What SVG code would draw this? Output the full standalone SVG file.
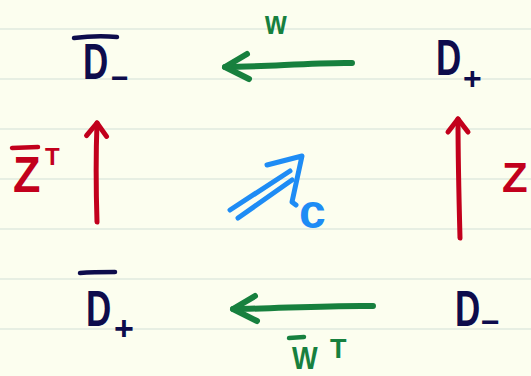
<svg xmlns="http://www.w3.org/2000/svg" width="531" height="376" viewBox="0 0 531 376">
  <style>
    .rule { stroke: #e7efe3; stroke-width: 2; }
    .t { font-family: "Liberation Sans", Arial, sans-serif; font-weight: bold; }
    .navy { fill: #0d0c4c; }
    .green { fill: #17803e; }
    .red { fill: #c2001c; }
    .blue { fill: #1e8cf5; }
    .bar { fill: none; stroke-width: 4.5; stroke-linecap: round; }
    .conn { fill: none; stroke-linecap: round; stroke-linejoin: round; }
    .g { stroke: #17803e; stroke-width: 6; }
    .r { stroke: #c2001c; stroke-width: 5; }
    .b { stroke: #1e8cf5; stroke-width: 5; }
  </style>
  <defs>
    <marker id="ahG" markerUnits="userSpaceOnUse" orient="auto" markerWidth="60" markerHeight="60" refX="0" refY="0" viewBox="-30 -30 60 60" overflow="visible">
      <path d="M-24,-12 L0,0 L-22,13" fill="none" stroke="#17803e" stroke-width="6" stroke-linecap="round" stroke-linejoin="round"/>
    </marker>
    <marker id="ahR" markerUnits="userSpaceOnUse" orient="auto" markerWidth="60" markerHeight="60" refX="0" refY="0" viewBox="-30 -30 60 60" overflow="visible">
      <path d="M-13,-10 L0,0 L-13,10" fill="none" stroke="#c2001c" stroke-width="5" stroke-linecap="round" stroke-linejoin="round"/>
    </marker>
  </defs>

  <rect width="531" height="376" fill="#fcfeef"/>
  <g id="rules">
    <line class="rule" x1="0" y1="29" x2="531" y2="29"/>
    <line class="rule" x1="0" y1="79" x2="531" y2="79"/>
    <line class="rule" x1="0" y1="129" x2="531" y2="129"/>
    <line class="rule" x1="0" y1="179" x2="531" y2="179"/>
    <line class="rule" x1="0" y1="229" x2="531" y2="229"/>
    <line class="rule" x1="0" y1="279" x2="531" y2="279"/>
    <line class="rule" x1="0" y1="329" x2="531" y2="329"/>
  </g>

  <g id="connectors">
    <path class="conn g" d="M352,63 C320,62 262,67 225,67" marker-end="url(#ahG)"/>
    <path class="conn g" d="M373,306 C330,305 270,309 233,309" marker-end="url(#ahG)"/>
    <path class="conn r" d="M97,222 C96,190 96,150 97,123" marker-end="url(#ahR)"/>
    <path class="conn r" d="M460,238 C459,200 458,150 458,119" marker-end="url(#ahR)"/>
    <g id="arrow-c">
      <path class="conn b" d="M230,210 L290,171"/>
      <path class="conn b" d="M238,218 L292,180"/>
      <path class="conn b" d="M267,165 L302,156 L292,202 L296,205"/>
    </g>
  </g>

  <g id="node-Dbar-minus">
    <path class="bar" stroke="#0d0c4c" d="M74,38 C90,36 105,36 117,37"/>
    <text class="t navy" font-size="50" transform="translate(83,79) scale(0.7,1)">D</text>
    <text class="t navy" font-size="30" x="111" y="88">−</text>
  </g>

  <g id="node-D-plus">
    <text class="t navy" font-size="50" transform="translate(436,75) scale(0.7,1)">D</text>
    <text class="t navy" font-size="32" x="463" y="89">+</text>
  </g>

  <g id="node-Dbar-plus">
    <path class="bar" stroke="#0d0c4c" d="M80,273 C92,272 104,272 115,272"/>
    <text class="t navy" font-size="50" transform="translate(86,326) scale(0.7,1)">D</text>
    <text class="t navy" font-size="34" x="114" y="340">+</text>
  </g>

  <g id="node-D-minus">
    <text class="t navy" font-size="50" transform="translate(455,326) scale(0.7,1)">D</text>
    <text class="t navy" font-size="32" x="481" y="333">−</text>
  </g>

  <g id="labels">
    <text class="t green" font-size="34" transform="translate(265,34) scale(0.82,1)">w</text>
    <path class="bar" stroke="#17803e" d="M289,338 L304,337"/>
    <text class="t green" font-size="32" transform="translate(292,369) scale(0.85,1)">W</text>
    <text class="t green" font-size="27" x="330" y="358">T</text>
    <path class="bar" stroke="#c2001c" d="M12,148 L38,147"/>
    <text class="t red" font-size="50" transform="translate(13,192) scale(0.9,1)">Z</text>
    <text class="t red" font-size="24" x="45" y="165">T</text>
    <text class="t red" font-size="42" x="502" y="192">Z</text>
    <text class="t blue" font-size="48" x="299" y="228">c</text>
  </g>
</svg>
